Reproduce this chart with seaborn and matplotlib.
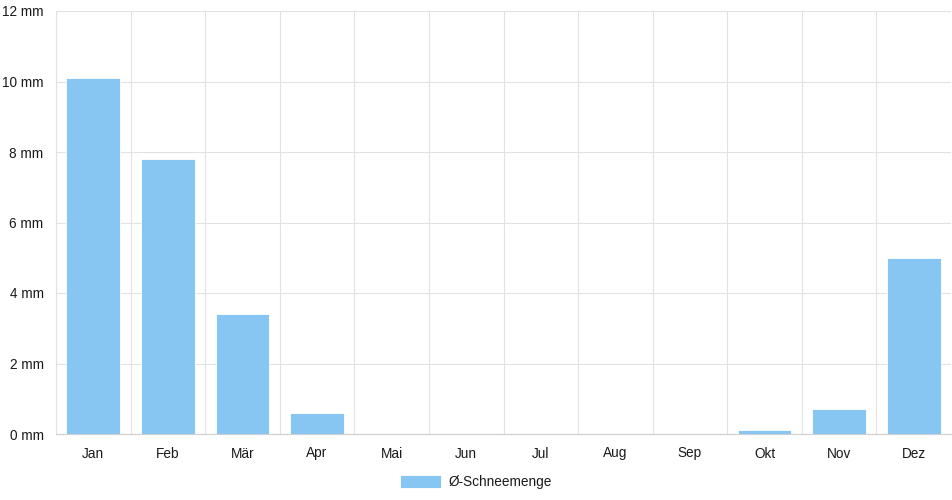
import matplotlib
matplotlib.use("Agg")
import matplotlib.pyplot as plt
import numpy as np
import pandas as pd
import seaborn as sns

months = ["Jan", "Feb", "Mär", "Apr", "Mai", "Jun", "Jul", "Aug", "Sep", "Okt", "Nov", "Dez"]
snow_mm = [10.1, 7.8, 3.4, 0.6, 0.0, 0.0, 0.0, 0.0, 0.0, 0.1, 0.7, 5.0]
y_ticks = [0, 2, 4, 6, 8, 10, 12]
series_label = "Ø-Schneemenge"

BAR_COLOR = "#87c6f2"
GRID_COLOR = "#e2e2e2"

sns.set_style("white")
plt.rcParams['font.family'] = ['Liberation Sans', 'DejaVu Sans']
plt.rcParams['font.size'] = 9.8

df = pd.DataFrame({"Monat": months, "Schnee": snow_mm})

fig = plt.figure(figsize=(9.52, 5.0), dpi=100)
ax = fig.add_axes([56 / 952, 66 / 500, 895 / 952, 423 / 500])

sns.barplot(data=df, x="Monat", y="Schnee", color=BAR_COLOR, saturation=1,
            width=0.72, edgecolor="white", linewidth=0.6, ax=ax,
            label=series_label, zorder=3)

ax.set_xlim(-0.5, len(months) - 0.5)
ax.set_ylim(0, 12)
ax.set_yticks(y_ticks)
ax.set_yticklabels([f"{t} mm" for t in y_ticks])
ax.set_xlabel("")
ax.set_ylabel("")

# category boundaries as vertical grid lines
ax.set_xticks(np.arange(-0.5, len(months), 1.0), minor=True)
ax.grid(True, which="minor", axis="x", color=GRID_COLOR, linewidth=0.8, zorder=0)
ax.grid(True, which="major", axis="y", color=GRID_COLOR, linewidth=0.8, zorder=0)
ax.tick_params(axis="x", which="major", length=0, pad=9, labelcolor="#1a1a1a")
ax.tick_params(axis="x", which="minor", length=6, color=GRID_COLOR, width=0.8)
ax.tick_params(axis="y", length=6, color=GRID_COLOR, width=0.8, pad=3, labelcolor="#1a1a1a")

for side in ["top", "right"]:
    ax.spines[side].set_visible(False)
ax.spines["left"].set_color(GRID_COLOR)
ax.spines["bottom"].set_color("#cfcfcf")
ax.spines["left"].set_zorder(1)

ax.legend(loc="center", bbox_to_anchor=(0.5, 18 / 500), bbox_transform=fig.transFigure,
          frameon=False, handlelength=3.0, handleheight=1.1, handletextpad=0.5,
          fontsize=9.8, labelcolor="#1a1a1a")

fig.savefig("out.png", dpi=100)
